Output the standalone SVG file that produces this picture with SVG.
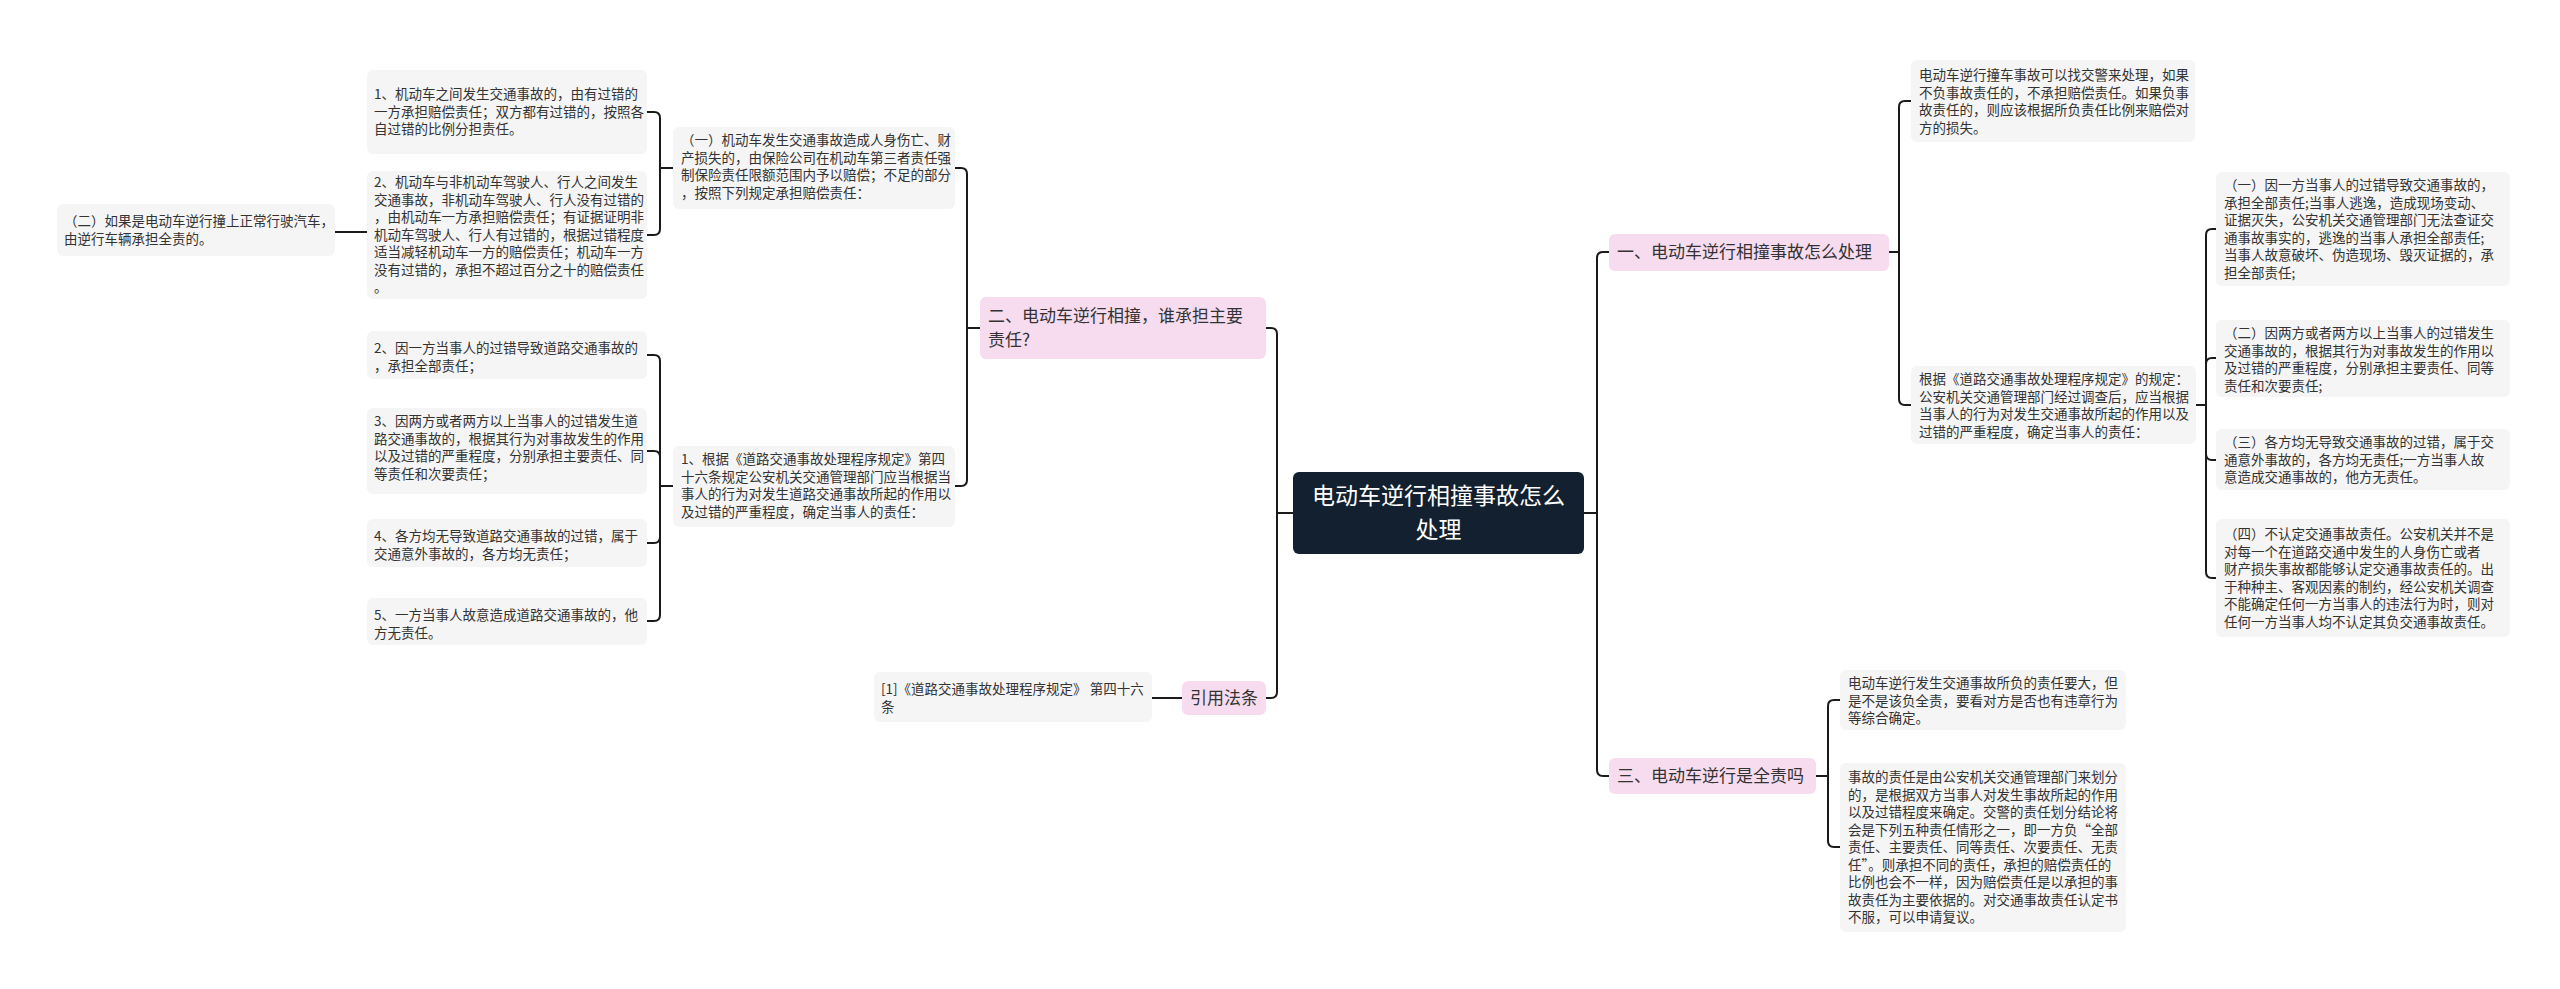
<svg xmlns="http://www.w3.org/2000/svg" width="2560" height="989" viewBox="0 0 2560 989">
<style>
.n{fill:#f5f5f5}
.b{fill:#f7dcef}
.t{font-family:"Noto Sans CJK SC","Liberation Sans",sans-serif;font-size:13.5px;fill:#333}
.bt{font-family:"Noto Sans CJK SC","Liberation Sans",sans-serif;font-size:17px;fill:#333}
.c path{fill:none;stroke:#1a1a1a;stroke-width:2}
</style>
<rect width="2560" height="989" fill="#fff"/>
<g class="c" id="connectors">
<path d="M1584 513H1597V258Q1597 252 1603 252H1609"/>
<path d="M1584 513H1597V770Q1597 776 1603 776H1609"/>
<path d="M1889 252H1899V107Q1899 101 1905 101H1911"/>
<path d="M1889 252H1899V399Q1899 405 1905 405H1911"/>
<path d="M2196 405H2206V235Q2206 229 2212 229H2216"/>
<path d="M2196 405H2206V364Q2206 358 2212 358H2216"/>
<path d="M2196 405H2206V454Q2206 460 2212 460H2216"/>
<path d="M2196 405H2206V572Q2206 578 2212 578H2216"/>
<path d="M1816 776H1828V706Q1828 700 1834 700H1840"/>
<path d="M1816 776H1828V841Q1828 847 1834 847H1840"/>
<path d="M1293 513H1277V334Q1277 328 1271 328H1266"/>
<path d="M1293 513H1277V692Q1277 698 1271 698H1266"/>
<path d="M980 328H967V174Q967 168 961 168H955"/>
<path d="M980 328H967V480Q967 486 961 486H955"/>
<path d="M673 168H660V118Q660 112 654 112H647"/>
<path d="M673 168H660V229Q660 235 654 235H647"/>
<path d="M367 232H335"/>
<path d="M673 486H660V361Q660 355 654 355H647"/>
<path d="M673 486H660V457Q660 451 654 451H647"/>
<path d="M673 486H660V537Q660 543 654 543H647"/>
<path d="M673 486H660V615Q660 621 654 621H647"/>
<path d="M1182 698H1152"/>
</g>
<g id="root">
<rect x="1293" y="472" width="291" height="82" rx="6" fill="#13202f"/>
<text x="1438.5" font-family="Noto Sans CJK SC,Liberation Sans,sans-serif" font-size="23" fill="#fff" text-anchor="middle"><tspan y="504">电动车逆行相撞事故怎么</tspan><tspan x="1438.5" y="538">处理</tspan></text>
</g>
<g id="b1"><rect class="b" x="1609" y="234" width="280" height="37" rx="6"/><text class="bt" x="1617" y="258">一、电动车逆行相撞事故怎么处理</text></g>
<g id="b2"><rect class="b" x="980" y="297" width="286" height="62" rx="6"/><text class="bt" x="988"><tspan y="322">二、电动车逆行相撞，谁承担主要</tspan><tspan x="988" y="346">责任?</tspan></text></g>
<g id="b3"><rect class="b" x="1182" y="681" width="84" height="34" rx="6"/><text class="bt" x="1190" y="704">引用法条</text></g>
<g id="b4"><rect class="b" x="1609" y="758" width="207" height="36" rx="6"/><text class="bt" x="1617" y="782">三、电动车逆行是全责吗</text></g>

<g id="a1"><rect class="n" x="1911" y="60" width="284" height="82" rx="6"/><text class="t" x="1919"><tspan y="80">电动车逆行撞车事故可以找交警来处理，如果</tspan><tspan x="1919" y="97.5">不负事故责任的，不承担赔偿责任。如果负事</tspan><tspan x="1919" y="115">故责任的，则应该根据所负责任比例来赔偿对</tspan><tspan x="1919" y="132.5">方的损失。</tspan></text></g>
<g id="a2"><rect class="n" x="1911" y="366" width="285" height="78" rx="6"/><text class="t" x="1919"><tspan y="384">根据《道路交通事故处理程序规定》的规定：</tspan><tspan x="1919" y="401.5">公安机关交通管理部门经过调查后，应当根据</tspan><tspan x="1919" y="419">当事人的行为对发生交通事故所起的作用以及</tspan><tspan x="1919" y="436.5">过错的严重程度，确定当事人的责任：</tspan></text></g>
<g id="r1"><rect class="n" x="2216" y="172" width="294" height="114" rx="6"/><text class="t" x="2224"><tspan y="190">（一）因一方当事人的过错导致交通事故的，</tspan><tspan x="2224" y="207.5">承担全部责任;当事人逃逸，造成现场变动、</tspan><tspan x="2224" y="225">证据灭失，公安机关交通管理部门无法查证交</tspan><tspan x="2224" y="242.5">通事故事实的，逃逸的当事人承担全部责任;</tspan><tspan x="2224" y="260">当事人故意破坏、伪造现场、毁灭证据的，承</tspan><tspan x="2224" y="277.5">担全部责任;</tspan></text></g>
<g id="r2"><rect class="n" x="2216" y="320" width="294" height="77" rx="6"/><text class="t" x="2224"><tspan y="338">（二）因两方或者两方以上当事人的过错发生</tspan><tspan x="2224" y="355.5">交通事故的，根据其行为对事故发生的作用以</tspan><tspan x="2224" y="373">及过错的严重程度，分别承担主要责任、同等</tspan><tspan x="2224" y="390.5">责任和次要责任;</tspan></text></g>
<g id="r3"><rect class="n" x="2216" y="429" width="294" height="61" rx="6"/><text class="t" x="2224"><tspan y="447">（三）各方均无导致交通事故的过错，属于交</tspan><tspan x="2224" y="464.5">通意外事故的，各方均无责任;一方当事人故</tspan><tspan x="2224" y="482">意造成交通事故的，他方无责任。</tspan></text></g>
<g id="r4"><rect class="n" x="2216" y="519" width="294" height="118" rx="6"/><text class="t" x="2224"><tspan y="539">（四）不认定交通事故责任。公安机关并不是</tspan><tspan x="2224" y="556.5">对每一个在道路交通中发生的人身伤亡或者</tspan><tspan x="2224" y="574">财产损失事故都能够认定交通事故责任的。出</tspan><tspan x="2224" y="591.5">于种种主、客观因素的制约，经公安机关调查</tspan><tspan x="2224" y="609">不能确定任何一方当事人的违法行为时，则对</tspan><tspan x="2224" y="626.5">任何一方当事人均不认定其负交通事故责任。</tspan></text></g>
<g id="s1"><rect class="n" x="1840" y="670" width="286" height="60" rx="6"/><text class="t" x="1848"><tspan y="688">电动车逆行发生交通事故所负的责任要大，但</tspan><tspan x="1848" y="705.5">是不是该负全责，要看对方是否也有违章行为</tspan><tspan x="1848" y="723">等综合确定。</tspan></text></g>
<g id="s2"><rect class="n" x="1840" y="763" width="286" height="169" rx="6"/><text class="t" x="1848"><tspan y="782">事故的责任是由公安机关交通管理部门来划分</tspan><tspan x="1848" y="799.5">的，是根据双方当事人对发生事故所起的作用</tspan><tspan x="1848" y="817">以及过错程度来确定。交警的责任划分结论将</tspan><tspan x="1848" y="834.5">会是下列五种责任情形之一，即一方负“全部</tspan><tspan x="1848" y="852">责任、主要责任、同等责任、次要责任、无责</tspan><tspan x="1848" y="869.5">任”。则承担不同的责任，承担的赔偿责任的</tspan><tspan x="1848" y="887">比例也会不一样，因为赔偿责任是以承担的事</tspan><tspan x="1848" y="904.5">故责任为主要依据的。对交通事故责任认定书</tspan><tspan x="1848" y="922">不服，可以申请复议。</tspan></text></g>

<g id="c1"><rect class="n" x="673" y="127" width="282" height="82" rx="6"/><text class="t" x="681"><tspan y="145">（一）机动车发生交通事故造成人身伤亡、财</tspan><tspan x="681" y="162.5">产损失的，由保险公司在机动车第三者责任强</tspan><tspan x="681" y="180">制保险责任限额范围内予以赔偿；不足的部分</tspan><tspan x="681" y="197.5">，按照下列规定承担赔偿责任：</tspan></text></g>
<g id="c2"><rect class="n" x="673" y="446" width="282" height="81" rx="6"/><text class="t" x="681"><tspan y="464">1、根据《道路交通事故处理程序规定》第四</tspan><tspan x="681" y="481.5">十六条规定公安机关交通管理部门应当根据当</tspan><tspan x="681" y="499">事人的行为对发生道路交通事故所起的作用以</tspan><tspan x="681" y="516.5">及过错的严重程度，确定当事人的责任：</tspan></text></g>
<g id="l1"><rect class="n" x="367" y="70" width="280" height="84" rx="6"/><text class="t" x="374"><tspan y="99">1、机动车之间发生交通事故的，由有过错的</tspan><tspan x="374" y="116.5">一方承担赔偿责任；双方都有过错的，按照各</tspan><tspan x="374" y="134">自过错的比例分担责任。</tspan></text></g>
<g id="l2"><rect class="n" x="367" y="171" width="280" height="128" rx="6"/><text class="t" x="374"><tspan y="187">2、机动车与非机动车驾驶人、行人之间发生</tspan><tspan x="374" y="204.5">交通事故，非机动车驾驶人、行人没有过错的</tspan><tspan x="374" y="222">，由机动车一方承担赔偿责任；有证据证明非</tspan><tspan x="374" y="239.5">机动车驾驶人、行人有过错的，根据过错程度</tspan><tspan x="374" y="257">适当减轻机动车一方的赔偿责任；机动车一方</tspan><tspan x="374" y="274.5">没有过错的，承担不超过百分之十的赔偿责任</tspan><tspan x="374" y="292">。</tspan></text></g>
<g id="l3"><rect class="n" x="57" y="204" width="278" height="52" rx="6"/><text class="t" x="64"><tspan y="226">（二）如果是电动车逆行撞上正常行驶汽车，</tspan><tspan x="64" y="243.5">由逆行车辆承担全责的。</tspan></text></g>
<g id="m2"><rect class="n" x="367" y="331" width="280" height="48" rx="6"/><text class="t" x="374"><tspan y="353">2、因一方当事人的过错导致道路交通事故的</tspan><tspan x="374" y="370.5">，承担全部责任；</tspan></text></g>
<g id="m3"><rect class="n" x="367" y="408" width="280" height="86" rx="6"/><text class="t" x="374"><tspan y="426">3、因两方或者两方以上当事人的过错发生道</tspan><tspan x="374" y="443.5">路交通事故的，根据其行为对事故发生的作用</tspan><tspan x="374" y="461">以及过错的严重程度，分别承担主要责任、同</tspan><tspan x="374" y="478.5">等责任和次要责任；</tspan></text></g>
<g id="m4"><rect class="n" x="367" y="519" width="280" height="48" rx="6"/><text class="t" x="374"><tspan y="541">4、各方均无导致道路交通事故的过错，属于</tspan><tspan x="374" y="558.5">交通意外事故的，各方均无责任；</tspan></text></g>
<g id="m5"><rect class="n" x="367" y="598" width="280" height="47" rx="6"/><text class="t" x="374"><tspan y="620">5、一方当事人故意造成道路交通事故的，他</tspan><tspan x="374" y="637.5">方无责任。</tspan></text></g>
<g id="ref"><rect class="n" x="874" y="672" width="278" height="50" rx="6"/><text class="t" x="881"><tspan y="694">[1]《道路交通事故处理程序规定》 第四十六</tspan><tspan x="881" y="711.5">条</tspan></text></g>
</svg>
